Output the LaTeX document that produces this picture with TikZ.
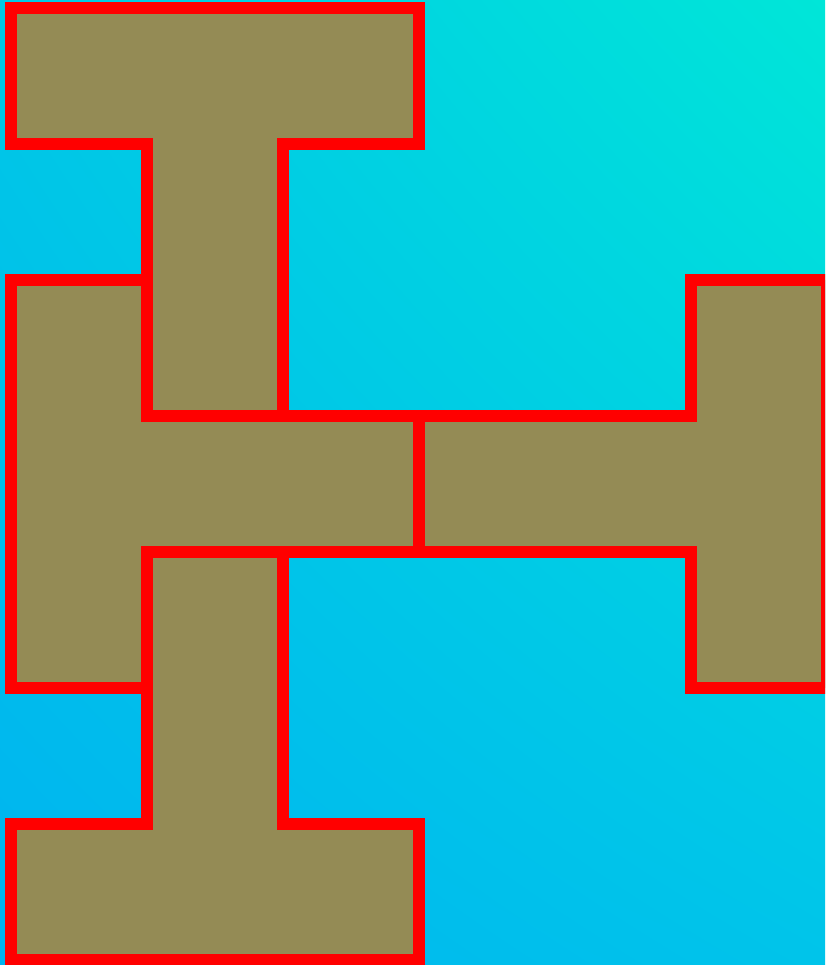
\documentclass[tikz,border=0pt]{standalone}
\usetikzlibrary{shadings}
\begin{document}
\begin{tikzpicture}[x=1pt,y=-1pt,
  piece/.style={fill=olivefill,draw=red,line width=12pt,line join=miter}]
\definecolor{olivefill}{HTML}{948B55}
\definecolor{bgbl}{HTML}{00B4F0}
\definecolor{bgtr}{HTML}{00E6D8}
\definecolor{bgtl}{HTML}{00C8E6}
\definecolor{bgbr}{HTML}{00C4EA}
\useasboundingbox (0,0) rectangle (825,965);
\shade[upper left=bgtl,upper right=bgtr,lower left=bgbl,lower right=bgbr] (0,965) rectangle (825,0);
\begin{scope}
\clip (0,0) rectangle (825,965);
% top piece
\draw[piece] (11,8) -- (419,8) -- (419,144) -- (283,144) -- (283,416) -- (147,416) -- (147,144) -- (11,144) -- cycle;
% left piece
\draw[piece] (11,280) -- (147,280) -- (147,416) -- (419,416) -- (419,552) -- (147,552) -- (147,688) -- (11,688) -- cycle;
% right piece
\draw[piece] (691,280) -- (827,280) -- (827,688) -- (691,688) -- (691,552) -- (419,552) -- (419,416) -- (691,416) -- cycle;
% bottom piece
\draw[piece] (147,552) -- (283,552) -- (283,824) -- (419,824) -- (419,960) -- (11,960) -- (11,824) -- (147,824) -- cycle;
\end{scope}
\end{tikzpicture}
\end{document}
